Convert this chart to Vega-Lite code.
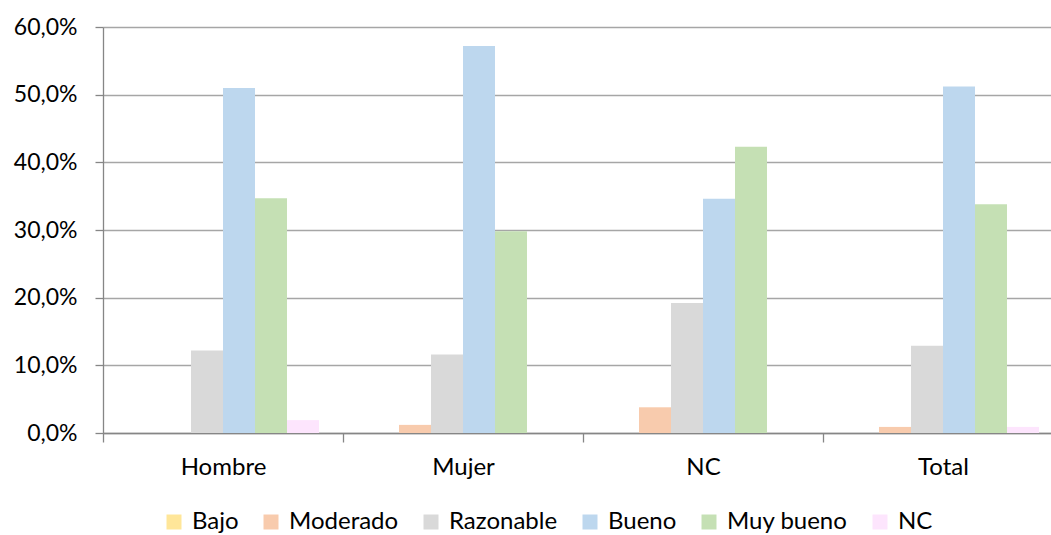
{
  "$schema": "https://vega.github.io/schema/vega-lite/v6.json",
  "autosize": {"type": "none"},
  "padding": {"left": 103, "top": 27, "right": 0, "bottom": 102},
  "width": 948,
  "height": 406,
  "background": "white",
  "data": {
    "values": [
      {"grupo": "Hombre", "nivel": "Bajo", "valor": 0},
      {"grupo": "Hombre", "nivel": "Moderado", "valor": 0},
      {"grupo": "Hombre", "nivel": "Razonable", "valor": 0.122},
      {"grupo": "Hombre", "nivel": "Bueno", "valor": 0.510},
      {"grupo": "Hombre", "nivel": "Muy bueno", "valor": 0.347},
      {"grupo": "Hombre", "nivel": "NC", "valor": 0.019},
      {"grupo": "Mujer", "nivel": "Bajo", "valor": 0},
      {"grupo": "Mujer", "nivel": "Moderado", "valor": 0.012},
      {"grupo": "Mujer", "nivel": "Razonable", "valor": 0.116},
      {"grupo": "Mujer", "nivel": "Bueno", "valor": 0.572},
      {"grupo": "Mujer", "nivel": "Muy bueno", "valor": 0.298},
      {"grupo": "Mujer", "nivel": "NC", "valor": 0},
      {"grupo": "NC", "nivel": "Bajo", "valor": 0},
      {"grupo": "NC", "nivel": "Moderado", "valor": 0.038},
      {"grupo": "NC", "nivel": "Razonable", "valor": 0.192},
      {"grupo": "NC", "nivel": "Bueno", "valor": 0.346},
      {"grupo": "NC", "nivel": "Muy bueno", "valor": 0.423},
      {"grupo": "NC", "nivel": "NC", "valor": 0},
      {"grupo": "Total", "nivel": "Bajo", "valor": 0},
      {"grupo": "Total", "nivel": "Moderado", "valor": 0.009},
      {"grupo": "Total", "nivel": "Razonable", "valor": 0.129},
      {"grupo": "Total", "nivel": "Bueno", "valor": 0.512},
      {"grupo": "Total", "nivel": "Muy bueno", "valor": 0.338},
      {"grupo": "Total", "nivel": "NC", "valor": 0.009}
    ]
  },
  "mark": {"type": "bar"},
  "encoding": {
    "x": {
      "field": "grupo",
      "type": "nominal",
      "sort": ["Hombre", "Mujer", "NC", "Total"],
      "scale": {"range": [0, 960], "paddingInner": 0, "paddingOuter": 0},
      "axis": {
        "title": null,
        "labelAngle": 0,
        "tickBand": "extent",
        "tickSize": 9,
        "tickColor": "#868686",
        "domainColor": "#868686",
        "labelPadding": 13,
        "labelFont": "Lato",
        "labelFontSize": 24,
        "labelColor": "#000000",
        "grid": false
      }
    },
    "xOffset": {
      "field": "nivel",
      "type": "nominal",
      "sort": ["Bajo", "Moderado", "Razonable", "Bueno", "Muy bueno", "NC"],
      "scale": {"paddingInner": 0, "paddingOuter": 0.75}
    },
    "y": {
      "field": "valor",
      "type": "quantitative",
      "scale": {"domain": [0, 0.6], "nice": false},
      "axis": {
        "title": null,
        "values": [0, 0.1, 0.2, 0.3, 0.4, 0.5, 0.6],
        "labelExpr": "replace(format(datum.value, '.1%'), '.', ',')",
        "tickSize": 8,
        "tickColor": "#868686",
        "domainColor": "#868686",
        "gridColor": "#A6A6A6",
        "labelPadding": 18,
        "labelFont": "Lato",
        "labelFontSize": 23,
        "labelColor": "#000000"
      }
    },
    "color": {
      "field": "nivel",
      "type": "nominal",
      "sort": ["Bajo", "Moderado", "Razonable", "Bueno", "Muy bueno", "NC"],
      "scale": {
        "domain": ["Bajo", "Moderado", "Razonable", "Bueno", "Muy bueno", "NC"],
        "range": ["#FFE699", "#F8CBAD", "#D9D9D9", "#BDD7EE", "#C5E0B4", "#FDE5FD"]
      },
      "legend": {
        "title": null,
        "orient": "none",
        "direction": "horizontal",
        "columns": 6,
        "legendX": 59,
        "legendY": 483,
        "symbolType": "square",
        "symbolSize": 225,
        "symbolStrokeWidth": 0,
        "symbolOpacity": 1,
        "labelFont": "Lato",
        "labelFontSize": 24,
        "labelColor": "#000000",
        "labelOffset": 6,
        "columnPadding": 20,
        "labelLimit": 300
      }
    }
  },
  "config": {
    "view": {"stroke": null},
    "axis": {"domainWidth": 1.3, "tickWidth": 1.3, "gridWidth": 1.3}
  }
}
